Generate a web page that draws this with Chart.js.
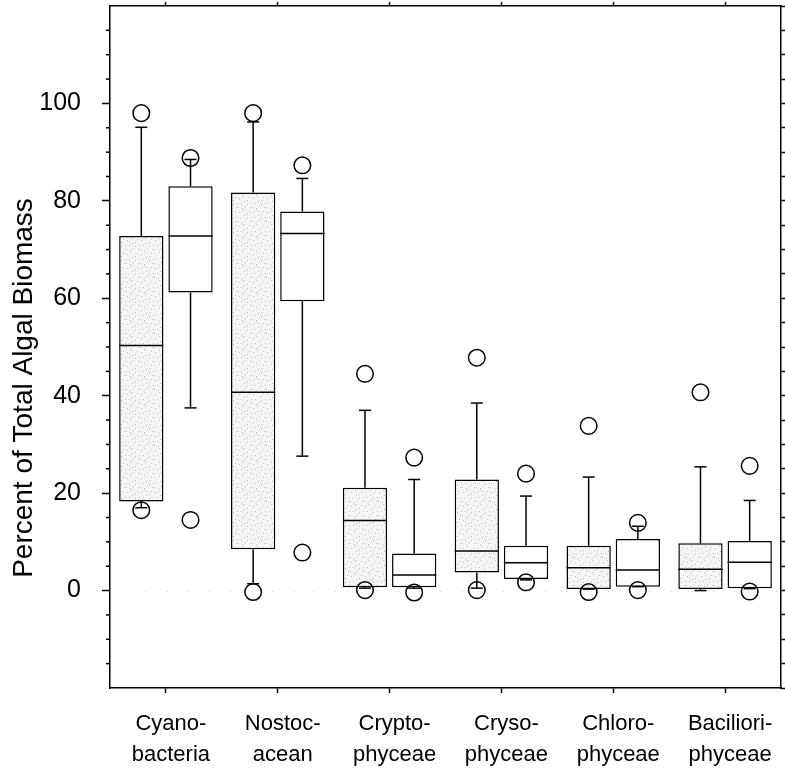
<!DOCTYPE html>
<html><head><meta charset="utf-8">
<script src="https://cdn.jsdelivr.net/npm/chart.js@4.4.0/dist/chart.umd.min.js"></script>
<style>html,body{margin:0;padding:0;background:#fff}#wrap{width:785px;height:770px;position:relative}</style>
</head><body><div id="wrap"><canvas id="c"></canvas></div>
<script>
const categories = [["Cyano-","bacteria"],["Nostoc-","acean"],["Crypto-","phyceae"],["Cryso-","phyceae"],["Chloro-","phyceae"],["Baciliori-","phyceae"]];
const yTickLabels = [0, 20, 40, 60, 80, 100];
const yTitle = "Percent of Total Algal Biomass";

// shaded (stippled) boxes
const minA = [17.0, 1.4, 0.5, 0.5, 0.3, 0.0];
const q1A  = [18.3, 8.5, 0.7, 3.7, 0.3, 0.3];
const medA = [50.3, 40.7, 14.4, 8.1, 4.7, 4.4];
const q3A  = [72.8, 81.7, 21.1, 22.8, 9.2, 9.7];
const maxA = [95.1, 96.2, 37.0, 38.5, 23.3, 25.4];
const outA = [[98.0, 16.5], [98.0, -0.3], [44.5, 0.1], [47.8, 0.1], [33.8, -0.3], [40.7]];

// white boxes
const minB = [37.5, 27.6, 0.5, 2.2, 0.8, 0.4];
const q1B  = [61.2, 59.4, 0.7, 2.4, 0.8, 0.5];
const medB = [72.8, 73.3, 3.2, 5.7, 4.2, 5.8];
const q3B  = [83.0, 77.8, 7.6, 9.2, 10.6, 10.2];
const maxB = [88.5, 84.6, 22.8, 19.4, 13.2, 18.5];
const outB = [[88.8, 14.5], [87.3, 7.8], [27.3, -0.4], [24.0, 1.7], [13.9, 0.1], [25.6, -0.2]];

const FONT = '"Liberation Sans", Arial, Helvetica, sans-serif';
Chart.defaults.color = '#000';
Chart.defaults.font.family = FONT;

function stipple() {
  const c = document.createElement('canvas'); c.width = 14; c.height = 14;
  const g = c.getContext('2d');
  g.fillStyle = '#f6f6f6'; g.fillRect(0, 0, 14, 14);
  g.fillStyle = '#bdbdbd';
  [[1,2],[5,0],[9,4],[3,7],[7,10],[12,11],[0,11],[6,5],[11,1],[13,7],[4,12],[9,8]].forEach(p => g.fillRect(p[0], p[1], 1, 1));
  return document.getElementById('c').getContext('2d').createPattern(c, 'repeat');
}

const stats = [
  {min: minA, q1: q1A, med: medA, q3: q3A, max: maxA, out: outA},
  {min: minB, q1: q1B, med: medB, q3: q3B, max: maxB, out: outB}
];

const noPad = s => { s.paddingTop = 0; s.paddingBottom = 0; s.paddingLeft = 0; s.paddingRight = 0; };

const boxPlugin = {
  id: 'boxparts',
  beforeDatasetsDraw(chart) {
    const ctx = chart.ctx, y = chart.scales.y, a = chart.chartArea;
    ctx.save();
    ctx.strokeStyle = '#c8c8c8'; ctx.lineWidth = 1; ctx.setLineDash([1, 20]);
    const p = Math.round(y.getPixelForValue(0)) + 0.5;
    ctx.beginPath(); ctx.moveTo(a.left + 36, p); ctx.lineTo(a.right, p); ctx.stroke();
    ctx.restore();
  },
  afterDatasetsDraw(chart) {
    const ctx = chart.ctx, y = chart.scales.y;
    const py = v => y.getPixelForValue(v);
    ctx.save();
    ctx.strokeStyle = '#000'; ctx.lineWidth = 1.5; ctx.setLineDash([]);
    const line = (x1, y1, x2, y2) => { ctx.beginPath(); ctx.moveTo(x1, y1); ctx.lineTo(x2, y2); ctx.stroke(); };
    stats.forEach((s, di) => {
      const meta = chart.getDatasetMeta(di);
      meta.data.forEach((bar, i) => {
        const x = bar.x, hw = bar.width / 2, cw = 6;
        line(x - hw, py(s.med[i]), x + hw, py(s.med[i]));
        if (s.max[i] > s.q3[i]) { line(x, py(s.q3[i]), x, py(s.max[i])); line(x - cw, py(s.max[i]), x + cw, py(s.max[i])); }
        if (s.min[i] < s.q1[i]) { line(x, py(s.q1[i]), x, py(s.min[i])); }
        line(x - cw, py(s.min[i]), x + cw, py(s.min[i]));
        s.out[i].forEach(v => { ctx.beginPath(); ctx.arc(x, py(v), 8.3, 0, Math.PI * 2); ctx.stroke(); });
      });
    });
    ctx.restore();
  },
  afterDraw(chart) {
    const ctx = chart.ctx, y = chart.scales.y, a = chart.chartArea;
    ctx.save();
    ctx.strokeStyle = '#000'; ctx.lineWidth = 1.5;
    for (let v = -15; v < 120; v += 5) {
      if (v % 20 === 0) continue;
      const p = y.getPixelForValue(v);
      ctx.beginPath(); ctx.moveTo(a.left - 4, p); ctx.lineTo(a.left, p); ctx.stroke();
    }
    ctx.fillStyle = '#000';
    ctx.font = '28px ' + FONT;
    ctx.textAlign = 'center'; ctx.textBaseline = 'alphabetic';
    ctx.translate(32, 388); ctx.rotate(-Math.PI / 2);
    ctx.fillText(yTitle, 0, 0);
    ctx.restore();
  }
};

new Chart(document.getElementById('c'), {
  type: 'bar',
  data: {
    labels: categories,
    datasets: [
      { label: 'A', data: q1A.map((v, i) => [v, q3A[i]]), backgroundColor: stipple(), borderColor: '#000', borderWidth: 1.5, borderSkipped: false },
      { label: 'B', data: q1B.map((v, i) => [v, q3B[i]]), backgroundColor: '#fff', borderColor: '#000', borderWidth: 1.5, borderSkipped: false }
    ]
  },
  options: {
    responsive: true, maintainAspectRatio: false, animation: false,
    categoryPercentage: 0.88, barPercentage: 0.9,
    layout: { padding: 0 },
    plugins: { legend: { display: false }, tooltip: { enabled: false } },
    scales: {
      x: {
        position: 'bottom', offset: true,
        grid: { offset: false, drawOnChartArea: false, drawTicks: true, tickLength: 5, color: '#000', tickWidth: 1.5 },
        border: { display: true, color: '#000', width: 1.5 },
        ticks: { font: { size: 22, lineHeight: 1.38 }, padding: 16, labelOffset: 5, maxRotation: 0, autoSkip: false, color: '#000' },
        afterFit(s) { s.height = 82; noPad(s); }
      },
      x2: {
        axis: 'x', type: 'category', labels: categories, position: 'top', offset: true,
        grid: { offset: false, drawOnChartArea: false, drawTicks: true, tickLength: 4, color: '#000', tickWidth: 1.5 },
        border: { display: true, color: '#000', width: 1.5 },
        ticks: { display: false },
        afterFit(s) { s.height = 6; noPad(s); }
      },
      y: {
        position: 'left', min: -20, max: 120,
        grid: { drawOnChartArea: false, drawTicks: true, tickLength: 8, tickWidth: 1.5,
                tickColor: c => (c.tick && c.tick.value % 20 === 0 && c.tick.value > -20 && c.tick.value < 120) ? '#000' : 'rgba(0,0,0,0)' },
        border: { display: true, color: '#000', width: 1.5 },
        ticks: { stepSize: 5, autoSkip: false, padding: 21, font: { size: 25 }, color: '#000',
                 callback: v => yTickLabels.includes(v) ? String(v) : '' },
        afterFit(s) { s.width = 110; noPad(s); }
      },
      y2: {
        axis: 'y', type: 'linear', position: 'right', min: -20, max: 120,
        grid: { drawOnChartArea: false, drawTicks: true, tickLength: 4, color: '#000', tickWidth: 1.5 },
        border: { display: true, color: '#000', width: 1.5 },
        ticks: { display: false, stepSize: 5, autoSkip: false },
        afterFit(s) { s.width = 4; noPad(s); }
      }
    }
  },
  plugins: [boxPlugin]
});
</script>
</body></html>
